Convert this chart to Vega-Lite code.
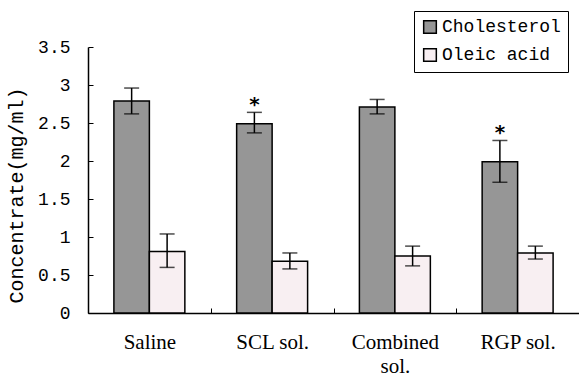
{
  "$schema": "https://vega.github.io/schema/vega-lite/v6.json",
  "autosize": "none",
  "padding": {"left": 88, "top": 47, "right": 0, "bottom": 66},
  "width": 491,
  "height": 266,
  "background": "white",
  "data": {
    "values": [
      {"group": "Saline", "series": "Cholesterol", "value": 2.79, "lo": 2.62, "hi": 2.96, "sig": ""},
      {"group": "Saline", "series": "Oleic acid", "value": 0.81, "lo": 0.6, "hi": 1.04, "sig": ""},
      {"group": "SCL sol.", "series": "Cholesterol", "value": 2.49, "lo": 2.37, "hi": 2.64, "sig": "*"},
      {"group": "SCL sol.", "series": "Oleic acid", "value": 0.68, "lo": 0.58, "hi": 0.79, "sig": ""},
      {"group": "Combined sol.", "series": "Cholesterol", "value": 2.71, "lo": 2.62, "hi": 2.81, "sig": ""},
      {"group": "Combined sol.", "series": "Oleic acid", "value": 0.75, "lo": 0.62, "hi": 0.88, "sig": ""},
      {"group": "RGP sol.", "series": "Cholesterol", "value": 1.99, "lo": 1.72, "hi": 2.27, "sig": "*"},
      {"group": "RGP sol.", "series": "Oleic acid", "value": 0.79, "lo": 0.71, "hi": 0.88, "sig": ""}
    ]
  },
  "encoding": {
    "x": {
      "field": "group", "type": "nominal", "sort": null,
      "scale": {"paddingInner": 0, "paddingOuter": 0},
      "axis": {
        "title": null, "labelAngle": 0, "tickBand": "extent", "tickSize": -5,
        "labelFont": "Liberation Serif", "labelFontSize": 21, "labelPadding": 23,
        "labelLineHeight": 24,
        "labelExpr": "datum.label == 'Combined sol.' ? ['Combined', 'sol.'] : datum.label"
      }
    },
    "xOffset": {
      "field": "series", "type": "nominal",
      "scale": {"paddingInner": 0, "paddingOuter": 0.73}
    }
  },
  "layer": [
    {
      "mark": {"type": "bar", "stroke": "black", "strokeWidth": 1.5},
      "encoding": {
        "y": {
          "field": "value", "type": "quantitative",
          "scale": {"domain": [0, 3.5], "nice": false},
          "axis": {
            "title": "Concentrate(mg/ml)", "values": [0, 0.5, 1, 1.5, 2, 2.5, 3, 3.5],
            "labelExpr": "format(datum.value, '~g')", "tickSize": -5, "labelPadding": 23, "grid": false,
            "labelOverlap": false,
            "labelFont": "Liberation Mono", "labelFontSize": 18,
            "titleFont": "Liberation Mono", "titleFontSize": 20, "titleFontWeight": "normal",
            "titleX": -62, "titleY": 148, "titleBaseline": "bottom", "titleAngle": -90
          }
        },
        "fill": {
          "field": "series", "type": "nominal",
          "scale": {"domain": ["Cholesterol", "Oleic acid"], "range": ["#969696", "#f8eff2"]},
          "legend": {
            "title": null, "orient": "none", "legendX": 326, "legendY": -36,
            "direction": "vertical", "padding": 7, "strokeColor": "black", "fillColor": "white",
            "symbolType": "square", "symbolSize": 160, "symbolStrokeColor": "black",
            "symbolStrokeWidth": 1.5, "labelFont": "Liberation Mono", "labelFontSize": 18,
            "labelOffset": 3, "rowPadding": 8, "labelColor": "black"
          }
        }
      }
    },
    {
      "mark": {"type": "rule", "color": "black", "strokeWidth": 1.5},
      "encoding": {
        "y": {"field": "lo", "type": "quantitative", "axis": {
            "title": "Concentrate(mg/ml)", "values": [0, 0.5, 1, 1.5, 2, 2.5, 3, 3.5],
            "labelExpr": "format(datum.value, '~g')", "tickSize": -5, "labelPadding": 23, "grid": false,
            "labelOverlap": false,
            "labelFont": "Liberation Mono", "labelFontSize": 18,
            "titleFont": "Liberation Mono", "titleFontSize": 20, "titleFontWeight": "normal",
            "titleX": -62, "titleY": 148, "titleBaseline": "bottom", "titleAngle": -90
          }},
        "y2": {"field": "hi"}
      }
    },
    {
      "mark": {"type": "tick", "color": "black", "thickness": 1.5, "size": 15},
      "encoding": {"y": {"field": "lo", "type": "quantitative", "axis": {
            "title": "Concentrate(mg/ml)", "values": [0, 0.5, 1, 1.5, 2, 2.5, 3, 3.5],
            "labelExpr": "format(datum.value, '~g')", "tickSize": -5, "labelPadding": 23, "grid": false,
            "labelOverlap": false,
            "labelFont": "Liberation Mono", "labelFontSize": 18,
            "titleFont": "Liberation Mono", "titleFontSize": 20, "titleFontWeight": "normal",
            "titleX": -62, "titleY": 148, "titleBaseline": "bottom", "titleAngle": -90
          }}}
    },
    {
      "mark": {"type": "tick", "color": "black", "thickness": 1.5, "size": 15},
      "encoding": {"y": {"field": "hi", "type": "quantitative", "axis": {
            "title": "Concentrate(mg/ml)", "values": [0, 0.5, 1, 1.5, 2, 2.5, 3, 3.5],
            "labelExpr": "format(datum.value, '~g')", "tickSize": -5, "labelPadding": 23, "grid": false,
            "labelOverlap": false,
            "labelFont": "Liberation Mono", "labelFontSize": 18,
            "titleFont": "Liberation Mono", "titleFontSize": 20, "titleFontWeight": "normal",
            "titleX": -62, "titleY": 148, "titleBaseline": "bottom", "titleAngle": -90
          }}}
    },
    {
      "mark": {"type": "text", "font": "DejaVu Sans", "fontWeight": "bold", "fontSize": 20, "baseline": "alphabetic", "dy": -1, "color": "black"},
      "encoding": {
        "y": {"field": "hi", "type": "quantitative", "axis": {
            "title": "Concentrate(mg/ml)", "values": [0, 0.5, 1, 1.5, 2, 2.5, 3, 3.5],
            "labelExpr": "format(datum.value, '~g')", "tickSize": -5, "labelPadding": 23, "grid": false,
            "labelOverlap": false,
            "labelFont": "Liberation Mono", "labelFontSize": 18,
            "titleFont": "Liberation Mono", "titleFontSize": 20, "titleFontWeight": "normal",
            "titleX": -62, "titleY": 148, "titleBaseline": "bottom", "titleAngle": -90
          }},
        "text": {"field": "sig"}
      }
    }
  ],
  "config": {
    "view": {"stroke": null},
    "axis": {"domainColor": "black", "tickColor": "black", "labelColor": "black", "titleColor": "black", "domainWidth": 1.5, "tickWidth": 1}
  }
}
